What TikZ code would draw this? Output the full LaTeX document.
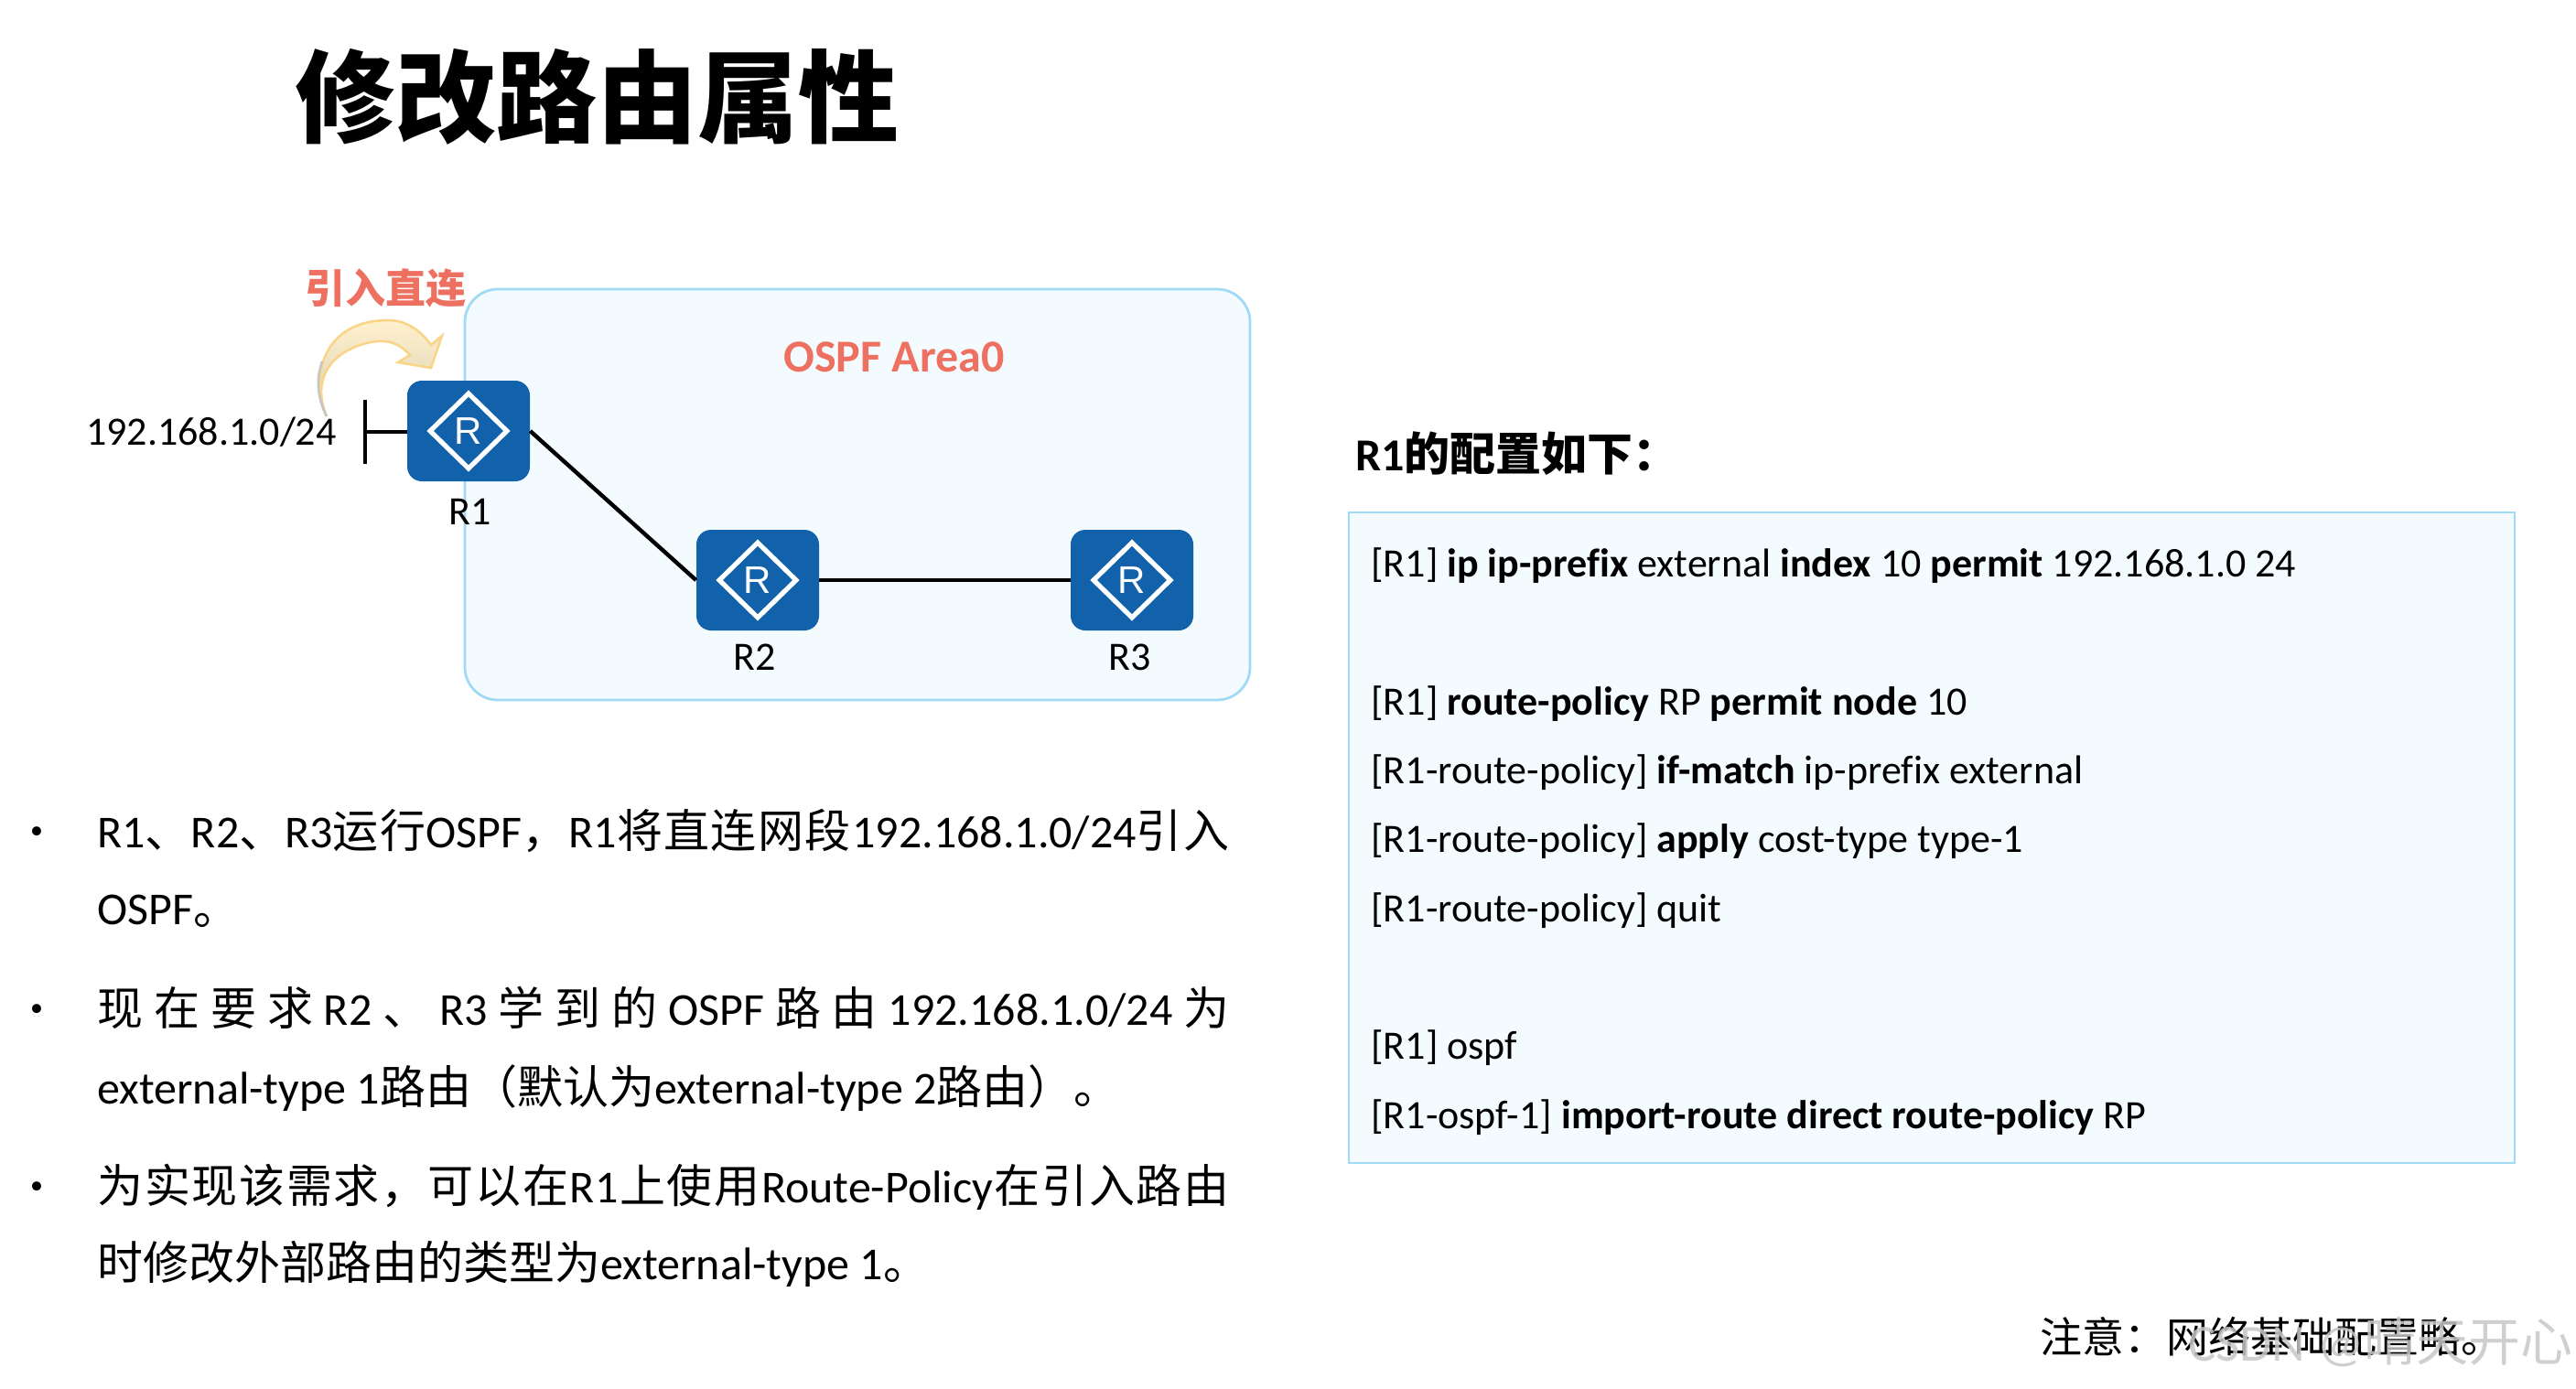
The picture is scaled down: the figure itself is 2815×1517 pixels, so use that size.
\documentclass[tikz,border=0pt]{standalone}
\usepackage{fontspec}
\setmainfont[Ligatures=CommonOff]{Carlito}
\newfontfamily\cjk{Noto Sans CJK SC}
\newfontfamily\markfont{Liberation Sans}
\usetikzlibrary{positioning, shapes.geometric}
\definecolor{areafill}{RGB}{243,251,255}
\definecolor{arealine}{RGB}{160,218,245}
\definecolor{routerblue}{RGB}{18,98,171}
\definecolor{salmon}{RGB}{238,112,96}
\definecolor{arrowfill}{RGB}{255,241,205}
\definecolor{arrowline}{RGB}{250,212,135}
\newcommand{\zh}[1]{{\cjk #1}}

\begin{document}
\begin{tikzpicture}[
  x=0.5pt, y=-0.5pt,
  font=\fontsize{22pt}{26pt}\selectfont,
  area/.style={draw=arealine, fill=areafill, line width=1.4pt, rounded corners=18pt,
               minimum width=429pt, minimum height=224.5pt},
  cfgbox/.style={draw=arealine, fill=areafill, line width=1.4pt,
                 minimum width=637pt, minimum height=355.5pt},
  router/.style={fill=routerblue, rounded corners=8pt, minimum width=67pt, minimum height=55pt, inner sep=0pt},
  rmark/.style={diamond, draw=white, line width=2.6pt, text=white, inner sep=0pt, minimum width=43pt,
                minimum height=42pt, font=\markfont\fontsize{21pt}{21pt}\selectfont},
  link/.style={line width=2.2pt},
  rlabel/.style={below=7pt of #1, inner sep=0pt},
  redtitle/.style={text=salmon, inner sep=0pt},
  line/.style={anchor=base west, inner sep=0pt, font=\fontsize{25pt}{30pt}\selectfont},
  cfgline/.style={anchor=base west, inner sep=0pt, font=\fontsize{22pt}{28pt}\selectfont},
]
\useasboundingbox (0,0) rectangle (2815,1517);

\node[anchor=base west, inner sep=0pt, font=\cjk\bfseries\fontsize{55pt}{60pt}\selectfont] (title) at (322,147) {修改路由属性};

% topology
\node[area] (ospf) at (937,540.5) {};
\node[redtitle, font=\bfseries\fontsize{25pt}{28pt}\selectfont] (ospft) at (977,390) {OSPF Area0};
\node[redtitle, font=\cjk\bfseries\fontsize{22pt}{26pt}\selectfont] (direct) at (421,315) {引入直连};

\foreach \name/\x/\y in {R1/512/471, R2/828/634, R3/1237/634} {
  \node[router] (\name) at (\x,\y) {};
  \node[rmark] (\name m) at (\name) {R};
}
\node[rlabel=R1, below=9pt of R1, xshift=1pt] (R1t) {R1};
\node[rlabel=R2, xshift=-1.5pt] (R2t) {R2};
\node[rlabel=R3, xshift=-1pt] (R3t) {R3};

\coordinate (barc) at (399,472);
\draw[link] (399,437) -- (399,507);
\draw[link] (barc) -- (R1.west |- barc);
\draw[link] (R1.east) -- (R2.west);
\draw[link] (R2.east) -- (R3.west);
\node[anchor=east, inner sep=0pt] (net) at (368,472) {192.168.1.0/24};

% import arrow
\path[draw=arrowline, line width=1.3pt, top color=arrowfill, bottom color=arrowfill!70!gray]
  (357,455) .. controls (340,425) and (345,350) .. (424,350)
  .. controls (445,350) and (460,362) .. (471,377) -- (483,367) -- (471,402) -- (435,396) -- (448,388)
  .. controls (432,370) and (415,372) .. (405,374)
  .. controls (355,385) and (342,420) .. (357,455) -- cycle;
\draw[gray!45, line width=1.3pt] (357,455) .. controls (347,435) and (345,415) .. (352,395);

% bullets
\foreach \y in {910,1104,1298}
  \node[anchor=center, inner sep=0pt, font=\fontsize{14pt}{14pt}\selectfont] at (40,\y) {•};
\node[line] (b1a) at (106,926) {\hbox to 618.5pt{R1\zh{、}R2\zh{、}R3\zh{运}\hfil\zh{行}OSPF\zh{，}\hfil R1\zh{将}\hfil\zh{直}\hfil\zh{连}\hfil\zh{网}\hfil\zh{段}\hfil 192.168.1.0/24\zh{引}\hfil\zh{入}}};
\node[line] (b1b) at (106,1010) {OSPF\zh{。}};
\node[line] (b2a) at (106,1120) {\hbox to 618.5pt{\zh{现}\hfil\zh{在}\hfil\zh{要}\hfil\zh{求}\hfil R2\hfil\zh{、}\hfil R3\hfil\zh{学}\hfil\zh{到}\hfil\zh{的}\hfil OSPF\hfil\zh{路}\hfil\zh{由}\hfil 192.168.1.0/24\hfil\zh{为}}};
\node[line] (b2b) at (106,1206) {external-type 1\zh{路由（默认为}external-type 2\zh{路由）。}};
\node[line] (b3a) at (106,1314) {\hbox to 618.5pt{\zh{为}\hfil\zh{实}\hfil\zh{现}\hfil\zh{该}\hfil\zh{需}\hfil\zh{求}\hfil\zh{，}\hfil\zh{可}\hfil\zh{以}\hfil\zh{在}\hfil R1\hfil\zh{上}\hfil\zh{使}\hfil\zh{用}\hfil Route-Policy\hfil\zh{在}\hfil\zh{引}\hfil\zh{入}\hfil\zh{路}\hfil\zh{由}}};
\node[line] (b3b) at (106,1398) {\zh{时修改外部路由的类型为}external-type 1\zh{。}};

% config
\node[anchor=base west, inner sep=0pt, font=\bfseries\fontsize{25pt}{28pt}\selectfont] (cfgt) at (1481,514) {R1\zh{的配置如下：}};
\node[cfgbox] (cfg) at (2111,915.5) {};
\foreach \y/\txt in {
  630/{[R1] \textbf{ip ip-prefix} external \textbf{index} 10 \textbf{permit} 192.168.1.0 24},
  781/{[R1] \textbf{route-policy} RP \textbf{permit node} 10},
  856/{[R1-route-policy] \textbf{if-match} ip-prefix external},
  931/{[R1-route-policy] \textbf{apply} cost-type type-1},
  1007/{[R1-route-policy] quit},
  1157/{[R1] ospf},
  1233/{[R1-ospf-1] \textbf{import-route direct route-policy} RP}}
  \node[cfgline] at (1498,\y) {\txt};

\node[anchor=base west, inner sep=0pt, font=\cjk\fontsize{23pt}{28pt}\selectfont] (note) at (2229,1478) {注意：网络基础配置略。};
\node[anchor=base east, inner sep=0pt, text=black!22, text opacity=0.85, font=\fontsize{28.5pt}{32pt}\selectfont] (wm) at (2812,1487) {CSDN @\zh{晴天开心}};
\end{tikzpicture}
\end{document}
